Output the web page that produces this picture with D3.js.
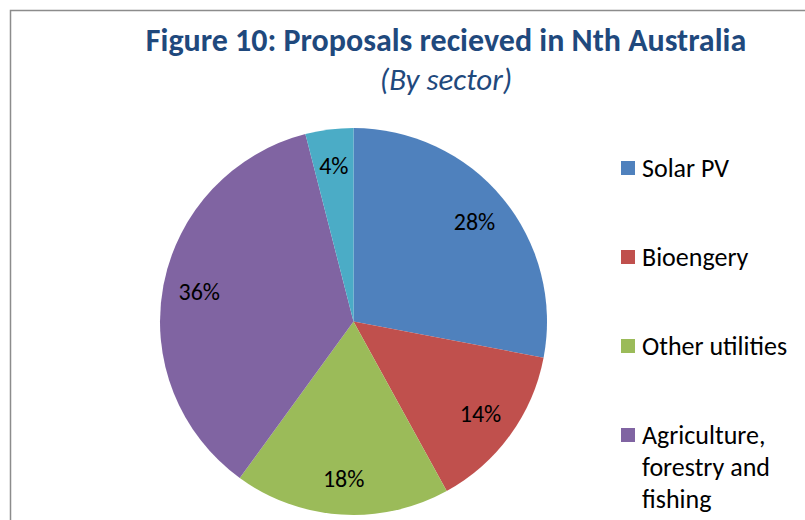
<!DOCTYPE html>
<html>
<head>
<meta charset="utf-8">
<script src="https://cdn.jsdelivr.net/npm/d3@7"></script>
<style>
  body { margin: 0; background: #fff; }
  svg { display: block; }
  text { font-family: Carlito, Calibri, Lato, "Open Sans", sans-serif; }
</style>
</head>
<body>
<svg width="805" height="520"></svg>
<script>
// Chart data
var sectors = ["Solar PV", "Bioengery", "Other utilities", "Agriculture, forestry and fishing", "Other"];
var shares = [28, 14, 18, 36, 4];
var colours = ["#4F81BD", "#C0504D", "#9BBB59", "#8064A2", "#4BACC6"];
var legendLines = [["Solar PV"], ["Bioengery"], ["Other utilities"], ["Agriculture,", "forestry and", "fishing"], ["Other"]];

var svg = d3.select("svg"),
    width = +svg.attr("width"),
    height = +svg.attr("height");

// chart frame (runs off the right and bottom edges)
svg.append("rect")
    .attr("x", 10.5).attr("y", 10.5)
    .attr("width", 900).attr("height", 600)
    .attr("fill", "#fff")
    .attr("stroke", "#8c8c8c")
    .attr("stroke-width", 1.5);

// title
svg.append("text")
    .attr("x", 446).attr("y", 51)
    .attr("text-anchor", "middle")
    .attr("font-size", "32px")
    .attr("font-weight", "bold")
    .attr("fill", "#1F497D")
    .text("Figure 10: Proposals recieved in Nth Australia");

svg.append("text")
    .attr("x", 446).attr("y", 90)
    .attr("text-anchor", "middle")
    .attr("font-size", "31px")
    .attr("font-style", "italic")
    .attr("fill", "#1F497D")
    .text("(By sector)");

// pie
var cx = 353.5, cy = 321.5, radius = 193.5;

var pie = d3.pie().sort(null).value(function (d) { return d; });
var arc = d3.arc().innerRadius(0).outerRadius(radius);
var labelArc = d3.arc().innerRadius(157).outerRadius(157);

var colour = d3.scaleOrdinal().domain(sectors).range(colours);

var g = svg.append("g").attr("transform", "translate(" + cx + "," + cy + ")");

var slices = pie(shares);

g.selectAll("path.slice")
    .data(slices)
    .enter()
    .append("path")
    .attr("class", "slice")
    .attr("d", arc)
    .attr("fill", function (d, i) { return colour(sectors[i]); })
    .attr("stroke", "none");

g.selectAll("text.pct")
    .data(slices)
    .enter()
    .append("text")
    .attr("class", "pct")
    .attr("transform", function (d) { return "translate(" + labelArc.centroid(d) + ")"; })
    .attr("text-anchor", "middle")
    .attr("dy", "0.35em")
    .attr("font-size", "24px")
    .attr("fill", "#000")
    .text(function (d) { return d.data + "%"; });

// legend - the last entry falls below the visible frame, so only draw what fits
var legendY = d3.scaleLinear().domain([0, 1]).range([168, 257]);
var shown = sectors.filter(function (d, i) { return legendY(i) < height - 60; });

var item = svg.selectAll("g.legend")
    .data(shown)
    .enter()
    .append("g")
    .attr("class", "legend")
    .attr("transform", function (d, i) { return "translate(621," + legendY(i) + ")"; });

item.append("rect")
    .attr("x", 0).attr("y", -7)
    .attr("width", 14).attr("height", 14)
    .attr("fill", function (d) { return colour(d); });

item.append("text")
    .attr("x", 21)
    .attr("font-size", "26px")
    .attr("fill", "#000")
    .selectAll("tspan")
    .data(function (d, i) { return legendLines[i]; })
    .enter()
    .append("tspan")
    .attr("x", 21)
    .attr("y", function (d, j) { return j * 32; })
    .attr("dy", "0.35em")
    .text(function (d) { return d; });
</script>
</body>
</html>
